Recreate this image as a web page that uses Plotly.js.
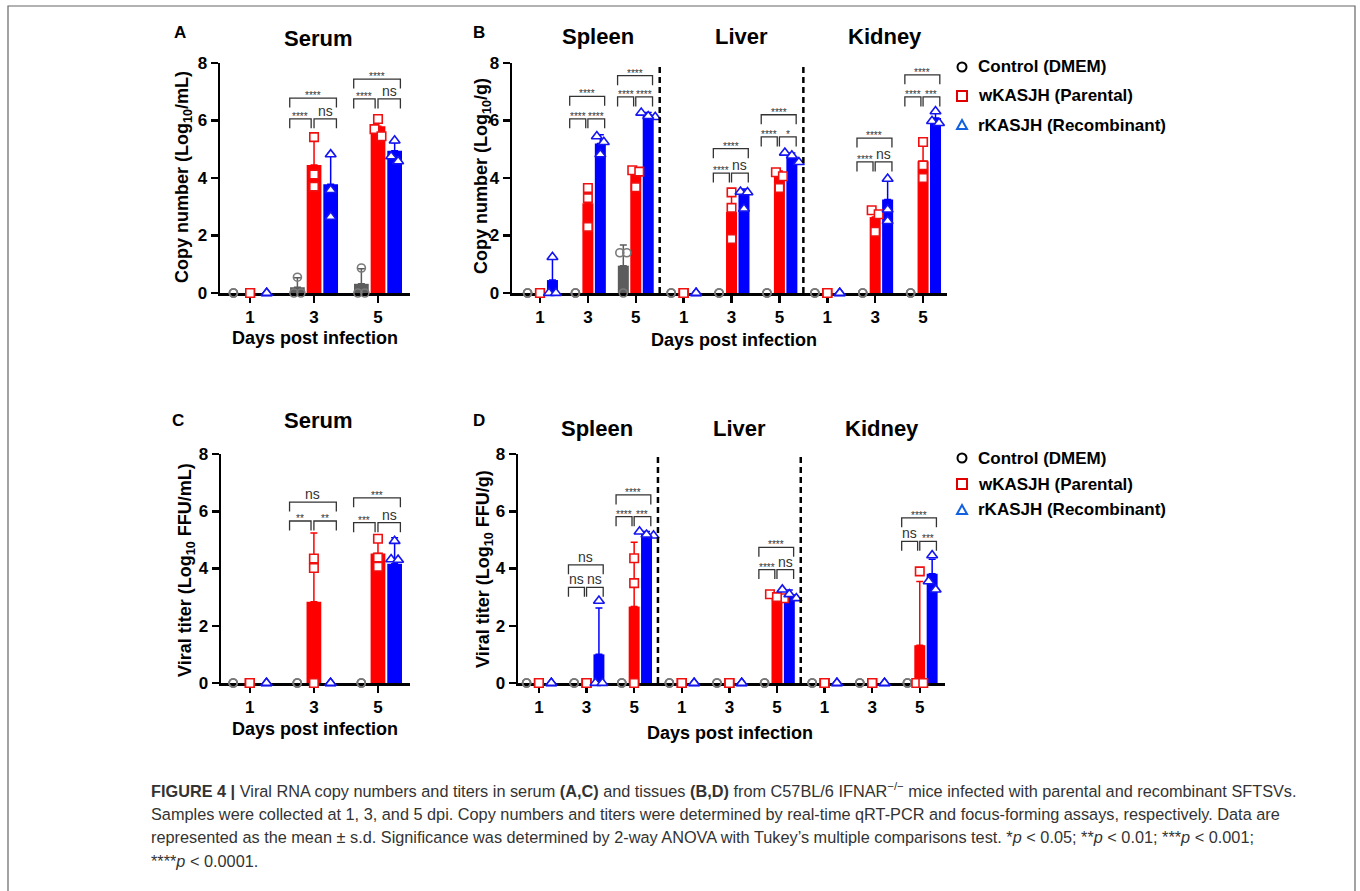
<!DOCTYPE html>
<html><head><meta charset="utf-8">
<script src="https://cdn.plot.ly/plotly-3.0.1.min.js"></script>
<style>html,body{margin:0;padding:0;background:#fff}#chart{width:1360px;height:891px}</style>
</head><body><div id="chart"></div>
<script>
// ================= DATA =================
const dayLabels = ['1','3','5'];
const tissueDayLabels = ['1','3','5','1','3','5','1','3','5'];
const tissues = ['Spleen','Liver','Kidney'];
const seriesNames = ['Control (DMEM)','wKASJH (Parental)','rKASJH (Recombinant)'];

// A: serum copy number (Log10/mL)
const serumCopyCtrlMean = [0, 0.2, 0.32];
const serumCopyCtrlSD   = [0, 0.33, 0.52];
const serumCopyCtrlPts  = [[0,0,0],[0.55,0,0],[0.87,0,0]];
const serumCopyWkMean   = [0, 4.45, 5.8];
const serumCopyWkSD     = [0, 0.9, 0.28];
const serumCopyWkPts    = [[0,0,0],[5.42,4.12,3.7],[6.05,5.7,5.45]];
const serumCopyRkMean   = [0, 3.78, 4.95];
const serumCopyRkSD     = [0, 1.07, 0.28];
const serumCopyRkPts    = [[0,0,0],[4.82,3.58,2.65],[5.3,4.75,4.58]];
// [group, lower bracket y, upper bracket y, ctrl-vs-w, w-vs-r, ctrl-vs-r]
const serumCopySig = [[1,6.06,6.78,'****','ns','****'],[2,6.75,7.44,'****','ns','****']];

// B: tissue copy number (Log10/g)  spleen 1,3,5 | liver 1,3,5 | kidney 1,3,5
const tissueCopyCtrlMean = [0,0,0.95, 0,0,0, 0,0,0];
const tissueCopyCtrlSD   = [0,0,0.72, 0,0,0, 0,0,0];
const tissueCopyCtrlPts  = [[0,0,0],[0,0,0],[1.4,1.4,0],[0,0,0],[0,0,0],[0,0,0],[0,0,0],[0,0,0],[0,0,0]];
const tissueCopyWkMean   = [0,3.12,4.17, 0,2.82,4.09, 0,2.64,4.58];
const tissueCopyWkSD     = [0,0.38,0.12, 0,0.62,0.15, 0,0.22,0.62];
const tissueCopyWkPts    = [[0,0,0],[3.65,3.3,2.3],[4.27,4.22,3.68],[0,0,0],[3.5,2.96,1.88],[4.2,4.06,3.65],[0,0,0],[2.88,2.74,2.13],[5.25,4.44,4.0]];
const tissueCopyRkMean   = [0.45,5.2,6.2, 0,3.42,4.75, 0,3.25,6.09];
const tissueCopyRkSD     = [0.8,0.3,0.08, 0,0.2,0.12, 0,0.72,0.22];
const tissueCopyRkPts    = [[1.25,0,0],[5.45,5.25,4.82],[6.27,6.12,6.15],[0,0,0],[3.52,3.5,2.93],[4.88,4.78,4.55],[0,0,0],[3.97,2.9,2.5],[6.32,5.98,5.91]];
const tissueCopySig = [[1,6.06,6.84,'****','****','****'],[2,6.82,7.56,'****','****','****'],
  [4,4.17,5.02,'****','ns','****'],[5,5.43,6.2,'****','*','****'],
  [7,4.56,5.39,'****','ns','****'],[8,6.82,7.59,'****','***','****']];

// C: serum viral titer (Log10 FFU/mL)
const serumTiterCtrlMean = [0,0,0];
const serumTiterCtrlSD   = [0,0,0];
const serumTiterCtrlPts  = [[0,0,0],[0,0,0],[0,0,0]];
const serumTiterWkMean   = [0,2.84,4.52];
const serumTiterWkSD     = [0,2.4,0.5];
const serumTiterWkPts    = [[0,0,0],[4.35,4.02,0],[5.04,4.38,4.06]];
const serumTiterRkMean   = [0,0,4.17];
const serumTiterRkSD     = [0,0,0.9];
const serumTiterRkPts    = [[0,0,0],[0,0,0],[4.96,4.32,4.3]];
const serumTiterSig = [[1,5.66,6.32,'**','**','ns'],[2,5.6,6.47,'***','ns','***']];

// D: tissue viral titer (Log10 FFU/g)
const tissueTiterCtrlMean = [0,0,0, 0,0,0, 0,0,0];
const tissueTiterCtrlSD   = [0,0,0, 0,0,0, 0,0,0];
const tissueTiterCtrlPts  = [[0,0,0],[0,0,0],[0,0,0],[0,0,0],[0,0,0],[0,0,0],[0,0,0],[0,0,0],[0,0,0]];
const tissueTiterWkMean   = [0,0,2.67, 0,0,3.02, 0,0,1.32];
const tissueTiterWkSD     = [0,0,2.25, 0,0,0.05, 0,0,2.23];
const tissueTiterWkPts    = [[0,0,0],[0,0,0],[4.36,3.49,0],[0,0,0],[0,0,0],[3.1,2.96,3.0],[0,0,0],[0,0,0],[3.9,0,0]];
const tissueTiterRkMean   = [0,1.0,5.21, 0,0,3.11, 0,0,3.82];
const tissueTiterRkSD     = [0,1.62,0.08, 0,0,0.14, 0,0,0.5];
const tissueTiterRkPts    = [[0,0,0],[2.87,0,0],[5.29,5.15,5.18],[0,0,0],[0,0,0],[3.26,3.1,2.96],[0,0,0],[0,0,0],[4.46,3.55,3.26]];
const tissueTiterSig = [[1,3.34,4.13,'ns','ns','ns'],[2,5.81,6.57,'****','***','****'],
  [5,3.96,4.74,'****','ns','****'],[8,4.95,5.77,'ns','***','****']];

const captionLines = [
  '<b>FIGURE 4 |</b> Viral RNA copy numbers and titers in serum <b>(A,C)</b> and tissues <b>(B,D)</b> from C57BL/6 IFNAR<sup>−/−</sup> mice infected with parental and recombinant SFTSVs.',
  'Samples were collected at 1, 3, and 5 dpi. Copy numbers and titers were determined by real-time qRT-PCR and focus-forming assays, respectively. Data are',
  'represented as the mean ± s.d. Significance was determined by 2-way ANOVA with Tukey’s multiple comparisons test. *<i>p</i> &lt; 0.05; **<i>p</i> &lt; 0.01; ***<i>p</i> &lt; 0.001;',
  '****<i>p</i> &lt; 0.0001.'
];

// ================= STYLE / LAYOUT =================
const W = 1360, H = 891;
const PX = x => x / W, PY = y => 1 - y / H;
const FONT = 'Liberation Sans, Arial, Helvetica, sans-serif';
const OFF = [-0.26, 0, 0.26];
const BARW = 0.23;
const BARCOL = ['#5c5c5c', '#ff0000', '#0000ff'];
const MKCOL = ['#7a7a7a', '#f01010', '#1515f0'];
const SYMB = ['circle', 'square', 'triangle-up'];
const MSIZE = [8, 8.5, 9.5];
const LEG = 0.33;
const BR = {L: -0.38, M1: -0.045, M2: 0.0, R: 0.35};

const panels = [
  {s:'', dom:[220,410,63,293], range:[-0.47,2.5], ticks:dayLabels,
   mean:[serumCopyCtrlMean,serumCopyWkMean,serumCopyRkMean], sd:[serumCopyCtrlSD,serumCopyWkSD,serumCopyRkSD],
   pts:[serumCopyCtrlPts,serumCopyWkPts,serumCopyRkPts], sig:serumCopySig, tissue:false},
  {s:'2', dom:[512,947,63,293], range:[-0.585,8.5], ticks:tissueDayLabels,
   mean:[tissueCopyCtrlMean,tissueCopyWkMean,tissueCopyRkMean], sd:[tissueCopyCtrlSD,tissueCopyWkSD,tissueCopyRkSD],
   pts:[tissueCopyCtrlPts,tissueCopyWkPts,tissueCopyRkPts], sig:tissueCopySig, tissue:true},
  {s:'3', dom:[221,410,454,683], range:[-0.45,2.5], ticks:dayLabels,
   mean:[serumTiterCtrlMean,serumTiterWkMean,serumTiterRkMean], sd:[serumTiterCtrlSD,serumTiterWkSD,serumTiterRkSD],
   pts:[serumTiterCtrlPts,serumTiterWkPts,serumTiterRkPts], sig:serumTiterSig, tissue:false},
  {s:'4', dom:[518,945,454,683], range:[-0.44,8.53], ticks:tissueDayLabels,
   mean:[tissueTiterCtrlMean,tissueTiterWkMean,tissueTiterRkMean], sd:[tissueTiterCtrlSD,tissueTiterWkSD,tissueTiterRkSD],
   pts:[tissueTiterCtrlPts,tissueTiterWkPts,tissueTiterRkPts], sig:tissueTiterSig, tissue:true}
];

function swarm(vals, pxX, pxY) {
  const n = vals.length, off = new Array(n).fill(0);
  if (vals.every(v => v === vals[0])) return off;
  const idx = vals.map((v, i) => i).sort((a, b) => vals[b] - vals[a]);
  const clusters = []; let cur = [idx[0]];
  for (let k = 1; k < n; k++) {
    if ((vals[idx[k-1]] - vals[idx[k]]) * pxY < 9) cur.push(idx[k]);
    else { clusters.push(cur); cur = [idx[k]]; }
  }
  clusters.push(cur);
  const d = 7;
  clusters.forEach(c => c.forEach((i, j) => { off[i] = (j - (c.length - 1) / 2) * d / pxX; }));
  return off;
}

const data = [], shapes = [], annotations = [];
const layout = {
  width: W, height: H, margin: {l:0, r:0, t:0, b:0}, autosize: false,
  paper_bgcolor: '#fff', plot_bgcolor: 'rgba(0,0,0,0)', showlegend: false,
  barmode: 'overlay', hovermode: false, font: {family: FONT, size: 14, color: '#000'}
};

const tickFont = {family: FONT, size: 17, color: '#000', weight: 'bold'};

panels.forEach(p => {
  const xa = 'x' + p.s, ya = 'y' + p.s;
  const pxX = (p.dom[1] - p.dom[0]) / (p.range[1] - p.range[0]);
  const pxY = (p.dom[3] - p.dom[2]) / 8;
  layout['xaxis' + p.s] = {
    domain: [PX(p.dom[0]), PX(p.dom[1])], range: p.range, anchor: ya,
    tickmode: 'array', tickvals: p.ticks.map((_, i) => i), ticktext: p.ticks,
    showline: true, linecolor: '#000', linewidth: 2.5, ticks: 'outside', ticklen: 7, tickwidth: 2.5,
    tickcolor: '#000', showgrid: false, zeroline: false, tickfont: tickFont, fixedrange: true,
    layer: 'below traces'
  };
  layout['yaxis' + p.s] = {
    domain: [PY(p.dom[3]), PY(p.dom[2])], range: [0, 8], anchor: xa,
    tickmode: 'array', tickvals: [0, 2, 4, 6, 8],
    showline: true, linecolor: '#000', linewidth: 2.5, ticks: 'outside', ticklen: 7, tickwidth: 2.5,
    tickcolor: '#000', showgrid: false, zeroline: false, tickfont: tickFont, fixedrange: true,
    layer: 'below traces'
  };
  // bars
  for (let k = 0; k < 3; k++) {
    data.push({
      type: 'bar', xaxis: xa, yaxis: ya, showlegend: false, hoverinfo: 'skip',
      x: p.mean[k].map((_, i) => i + OFF[k]), y: p.mean[k], width: BARW,
      marker: {color: BARCOL[k], line: {width: 0}},
      error_y: {type: 'data', symmetric: false, array: p.sd[k].map(v => v > 0 ? v : NaN),
        arrayminus: p.sd[k].map(v => v > 0 ? 0 : NaN), color: BARCOL[k], thickness: 1.5, width: 3.5}
    });
  }
  // individual points
  for (let k = 0; k < 3; k++) {
    const xs = [], ys = [];
    p.pts[k].forEach((g, i) => {
      const o = swarm(g, pxX, pxY);
      g.forEach((v, j) => { xs.push(i + OFF[k] + o[j]); ys.push(v); });
    });
    data.push({
      type: 'scatter', mode: 'markers', xaxis: xa, yaxis: ya, showlegend: false, hoverinfo: 'skip',
      cliponaxis: false, x: xs, y: ys,
      marker: {symbol: SYMB[k], size: MSIZE[k], color: k === 0 ? 'rgba(0,0,0,0)' : '#ffffff',
        line: {color: MKCOL[k], width: 1.6}}
    });
  }
  // significance brackets
  p.sig.forEach(sg => {
    const [g, y1, y2, lCR, lRB, lCB] = sg;
    const segs = [[g + BR.L, g + BR.M1, y1, lCR], [g + BR.M2, g + BR.R, y1, lRB], [g + BR.L, g + BR.R, y2, lCB]];
    segs.forEach(([a, b, y, lab]) => {
      shapes.push({type: 'path', xref: xa, yref: ya, layer: 'above',
        path: `M${a},${y - LEG} L${a},${y} L${b},${y} L${b},${y - LEG}`,
        line: {color: '#333', width: 1.3}});
      const star = lab.indexOf('*') === 0;
      annotations.push({xref: xa, yref: ya, x: (a + b) / 2, y: y, text: lab, showarrow: false,
        xanchor: 'center', yanchor: 'bottom', borderpad: 0, yshift: star ? -4 : -1,
        font: {family: FONT, size: star ? 10 : 14, color: '#333'}});
    });
  });
  // dividers + tissue titles
  if (p.tissue) {
    [1, 2].forEach(t => shapes.push({type: 'line', xref: xa, yref: ya, x0: t * 3 - 0.5, x1: t * 3 - 0.5, y0: 0, y1: 8,
      line: {color: '#000', width: 2.5, dash: '6px,4px'}}));
    tissues.forEach((t, i) => annotations.push({xref: xa, yref: 'paper', x: i * 3 + 1, xshift: 10,
      y: PY(p.s === '2' ? 36 : 428), text: '<b>' + t + '</b>', showarrow: false, xanchor: 'center', yanchor: 'middle',
      font: {family: FONT, size: 22, color: '#000'}}));
  } else {
    annotations.push({xref: xa, yref: 'paper', x: 1, xshift: 4, y: PY(p.s === '' ? 38 : 421),
      text: '<b>Serum</b>', showarrow: false, xanchor: 'center', yanchor: 'middle',
      font: {family: FONT, size: 22, color: '#000'}});
  }
});

// axis titles, panel letters
const txt = (x, y, text, size, extra) => annotations.push(Object.assign({xref: 'paper', yref: 'paper',
  x: PX(x), y: PY(y), text: text, showarrow: false, xanchor: 'center', yanchor: 'middle',
  font: {family: FONT, size: size, color: '#000'}}, extra || {}));
txt(184, 177, '<b>Copy number (Log<sub>10</sub>/mL)</b>', 18, {textangle: -90});
txt(482, 176, '<b>Copy number (Log<sub>10</sub>/g)</b>', 18, {textangle: -90});
txt(186, 570, '<b>Viral titer (Log<sub>10</sub> FFU/mL)</b>', 18, {textangle: -90});
txt(484, 569, '<b>Viral titer (Log<sub>10</sub> FFU/g)</b>', 18, {textangle: -90});
txt(315, 338, '<b>Days post infection</b>', 18);
txt(734, 340, '<b>Days post infection</b>', 18);
txt(315, 729, '<b>Days post infection</b>', 18);
txt(730, 733, '<b>Days post infection</b>', 18);
txt(180, 32, '<b>A</b>', 17);
txt(479, 32, '<b>B</b>', 17);
txt(178, 420, '<b>C</b>', 17);
txt(479, 420, '<b>D</b>', 17);

// legends (two copies)
[[67, 29], [458, 26]].forEach(([y0, dy]) => {
  seriesNames.forEach((nm, k) => {
    const cy = y0 + k * dy, cx = 962, r = 5;
    if (k === 0) shapes.push({type: 'circle', xref: 'paper', yref: 'paper', x0: PX(cx - r + 0.5), x1: PX(cx + r - 0.5),
      y0: PY(cy + r - 0.5), y1: PY(cy - r + 0.5), line: {color: '#000', width: 2}});
    if (k === 1) shapes.push({type: 'rect', xref: 'paper', yref: 'paper', x0: PX(cx - r), x1: PX(cx + r),
      y0: PY(cy + r), y1: PY(cy - r), line: {color: '#e00000', width: 2}});
    if (k === 2) shapes.push({type: 'path', xref: 'paper', yref: 'paper',
      path: `M${PX(cx - r)},${PY(cy + r - 1)} L${PX(cx + r)},${PY(cy + r - 1)} L${PX(cx)},${PY(cy - r)} Z`,
      line: {color: '#1060e0', width: 2}});
    annotations.push({xref: 'paper', yref: 'paper', x: PX(976), y: PY(cy), text: '<b>' + nm + '</b>',
      showarrow: false, xanchor: 'left', yanchor: 'middle', font: {family: FONT, size: 17, color: '#000'}});
  });
});

// caption
captionLines.forEach((t, i) => annotations.push({xref: 'paper', yref: 'paper', x: PX(149), y: PY(790 + i * 23.7),
  text: t, showarrow: false, xanchor: 'left', yanchor: 'middle', align: 'left',
  font: {family: FONT, size: 16.3, color: '#333'}}));

// figure frame
shapes.push({type: 'rect', xref: 'paper', yref: 'paper', x0: PX(8), x1: PX(1355), y0: PY(905), y1: PY(6),
  line: {color: '#666', width: 1.2}, layer: 'below'});

layout.shapes = shapes;
layout.annotations = annotations;
Plotly.newPlot('chart', data, layout, {staticPlot: true, displayModeBar: false});
</script></body></html>
